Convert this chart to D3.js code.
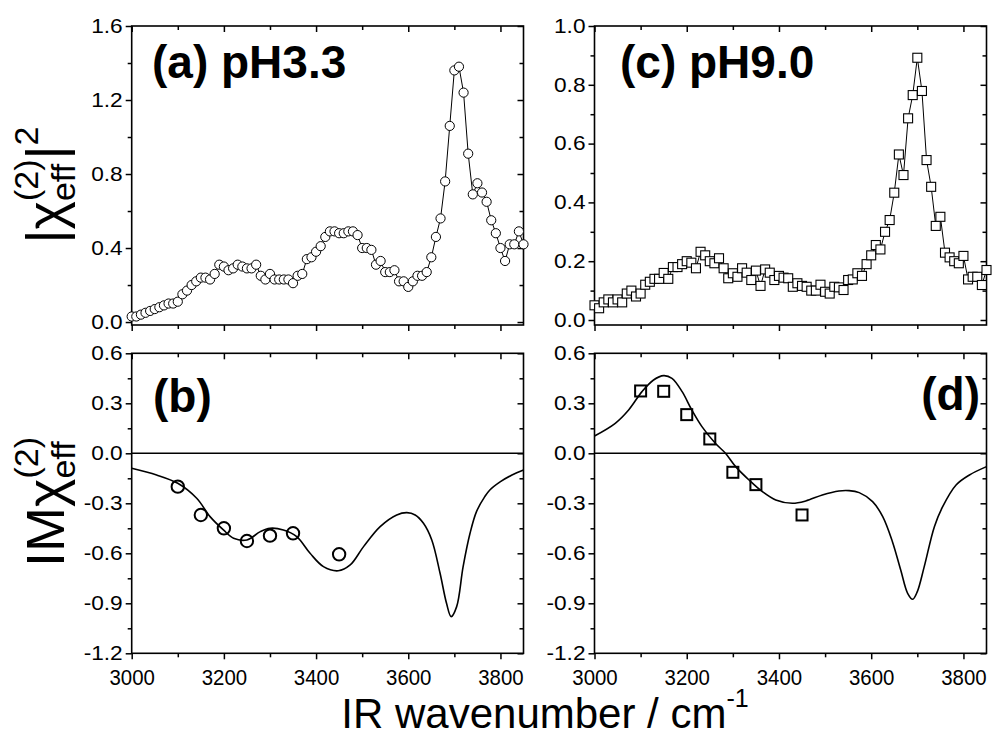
<!DOCTYPE html>
<html>
<head>
<meta charset="utf-8">
<script src="https://cdn.jsdelivr.net/npm/d3@7"></script>
<style>
  body { margin: 0; background: #fff; }
  svg { display: block; }
  text { font-family: "Liberation Sans", Arial, sans-serif; fill: #000; }
</style>
</head>
<body>
<div id="chart"></div>
<script>
// SFG scan wavenumbers (top panels) and |chi|^2 values
const wavenumber = [3000, 3010, 3020, 3030, 3040, 3050, 3060, 3070, 3080, 3090,
  3100, 3110, 3120, 3130, 3140, 3150, 3160, 3170, 3180, 3190,
  3200, 3210, 3220, 3230, 3240, 3250, 3260, 3270, 3280, 3290,
  3300, 3310, 3320, 3330, 3340, 3350, 3360, 3370, 3380, 3390,
  3400, 3410, 3420, 3430, 3440, 3450, 3460, 3470, 3480, 3490,
  3500, 3510, 3520, 3530, 3540, 3550, 3560, 3570, 3580, 3590,
  3600, 3610, 3620, 3630, 3640, 3650, 3660, 3670, 3680, 3690,
  3700, 3710, 3720, 3730, 3740, 3750, 3760, 3770, 3780, 3790,
  3800, 3810, 3820, 3830, 3840, 3850];

const chiSqPH33 = [0.03, 0.03, 0.04, 0.05, 0.06, 0.07, 0.08, 0.09, 0.10, 0.10,
  0.11, 0.15, 0.17, 0.20, 0.22, 0.24, 0.24, 0.23, 0.26, 0.31,
  0.30, 0.28, 0.29, 0.31, 0.30, 0.29, 0.29, 0.31, 0.25, 0.23,
  0.26, 0.23, 0.23, 0.23, 0.23, 0.21, 0.25, 0.26, 0.34, 0.35,
  0.38, 0.41, 0.46, 0.49, 0.49, 0.48, 0.48, 0.49, 0.49, 0.47,
  0.40, 0.40, 0.39, 0.31, 0.33, 0.27, 0.27, 0.28, 0.22, 0.22,
  0.19, 0.22, 0.25, 0.25, 0.27, 0.35, 0.46, 0.56, 0.76, 1.06,
  1.36, 1.38, 1.24, 0.91, 0.69, 0.75, 0.70, 0.65, 0.55, 0.48,
  0.40, 0.33, 0.42, 0.42, 0.49, 0.42];

const chiSqPH90 = [0.05, 0.04, 0.06, 0.07, 0.06, 0.07, 0.06, 0.09, 0.10, 0.08,
  0.09, 0.12, 0.13, 0.14, 0.14, 0.16, 0.14, 0.18, 0.18, 0.19,
  0.20, 0.195, 0.176, 0.232, 0.22, 0.20, 0.193, 0.21, 0.176, 0.142,
  0.159, 0.147, 0.176, 0.161, 0.136, 0.168, 0.116, 0.172, 0.161, 0.136,
  0.15, 0.144, 0.142, 0.113, 0.125, 0.116, 0.113, 0.10, 0.10, 0.12,
  0.096, 0.09, 0.113, 0.111, 0.102, 0.136, 0.138, 0.159, 0.15, 0.19,
  0.22, 0.255, 0.24, 0.30, 0.34, 0.433, 0.563, 0.493, 0.686, 0.765,
  0.892, 0.779, 0.544, 0.453, 0.32, 0.351, 0.229, 0.213, 0.20, 0.193,
  0.218, 0.138, 0.147, 0.147, 0.119, 0.17];

// Im chi(2) measured points (bottom panels)
const imWavenumber = [3100, 3150, 3200, 3250, 3300, 3350, 3450];
const imPH33 = [-0.20, -0.37, -0.45, -0.526, -0.494, -0.48, -0.606];
const imPH90 = [0.374, 0.372, 0.232, 0.086, -0.114, -0.188, -0.37];

// fitted Im chi(2) curves
const fitWavenumberPH33 = [3000, 3054, 3100, 3141, 3170, 3199, 3221, 3250, 3279, 3300, 3329, 3358,
  3387, 3416, 3448, 3474, 3503, 3539, 3575, 3597, 3615, 3633, 3651, 3669, 3683, 3693,
  3705, 3719, 3734, 3748, 3766, 3777, 3800, 3825, 3850];
const fitPH33 = [-0.09, -0.13, -0.18, -0.27, -0.38, -0.46, -0.51, -0.52, -0.47, -0.45, -0.46, -0.50,
  -0.60, -0.68, -0.705, -0.67, -0.56, -0.44, -0.37, -0.356, -0.37, -0.42, -0.52, -0.72, -0.90, -0.98,
  -0.92, -0.68, -0.48, -0.35, -0.26, -0.22, -0.17, -0.13, -0.10];

const fitWavenumberPH90 = [3000, 3045, 3074, 3103, 3128, 3150, 3168, 3190, 3211, 3233, 3262, 3284,
  3306, 3335, 3364, 3393, 3429, 3458, 3494, 3530, 3552, 3574, 3603, 3625, 3646, 3664, 3679,
  3690, 3700, 3715, 3737, 3755, 3784, 3813, 3850];
const fitPH90 = [0.104, 0.18, 0.26, 0.37, 0.44, 0.466, 0.45, 0.37, 0.26, 0.16, 0.06, 0.0,
  -0.08, -0.16, -0.23, -0.28, -0.30, -0.286, -0.25, -0.226, -0.224, -0.236, -0.29, -0.38,
  -0.53, -0.70, -0.84, -0.876, -0.83, -0.68, -0.44, -0.32, -0.19, -0.13, -0.08];

// ticks
const xMajor = [3000, 3200, 3400, 3600, 3800];
const xMinor = [3100, 3300, 3500, 3700];
const yMajorA = [0, 0.4, 0.8, 1.2, 1.6];
const yMinorA = [0.2, 0.6, 1.0, 1.4];
const yMajorC = [0, 0.2, 0.4, 0.6, 0.8, 1.0];
const yMinorC = [0.1, 0.3, 0.5, 0.7, 0.9];
const yMajorIm = [-1.2, -0.9, -0.6, -0.3, 0, 0.3, 0.6];
const yMinorIm = [-1.05, -0.75, -0.45, -0.15, 0.15, 0.45];

const width = 995, height = 738;
const svg = d3.select("#chart").append("svg")
  .attr("width", width)
  .attr("height", height);

// panel geometry
const colLeft = [131.7, 523.5];
const colRight = [594.5, 986.5];
const rowTop = [325, 26];
const rowBottom = [653.3, 353.3];

function stretchText(sel, f) {
  sel.each(function () {
    const t = d3.select(this);
    const x = +t.attr("x") || 0;
    t.attr("x", x / f).attr("transform", `scale(${f},1)`);
  });
}

function styleAxis(g, size, stretch) {
  g.select(".domain").remove();
  g.selectAll(".tick line").attr("stroke", "#000").attr("stroke-width", 1.5);
  g.selectAll(".tick text").style("font-size", size + "px").attr("fill", "#000");
  stretchText(g.selectAll(".tick text"), stretch);
}

function drawAxes(g, x, y, yMajor, yMinor, showX) {
  const [x0, x1] = x.range();
  const [yb, yt] = y.range();
  const fmtY = d => d.toFixed(1);

  // bottom (outward)
  g.append("g").attr("transform", `translate(0,${yb})`)
    .call(d3.axisBottom(x).tickValues(xMajor).tickSize(6).tickSizeOuter(0).tickPadding(10)
      .tickFormat(showX ? d3.format("d") : ""))
    .call(styleAxis, 21.5, 0.95);
  g.append("g").attr("transform", `translate(0,${yb})`)
    .call(d3.axisBottom(x).tickValues(xMinor).tickSize(4).tickSizeOuter(0).tickFormat(""))
    .call(styleAxis, 20, 1);
  // top (inward)
  g.append("g").attr("transform", `translate(0,${yt})`)
    .call(d3.axisTop(x).tickValues(xMajor).tickSize(-6).tickSizeOuter(0).tickFormat(""))
    .call(styleAxis, 20, 1);
  g.append("g").attr("transform", `translate(0,${yt})`)
    .call(d3.axisTop(x).tickValues(xMinor).tickSize(-4).tickSizeOuter(0).tickFormat(""))
    .call(styleAxis, 20, 1);
  // left (outward)
  g.append("g").attr("transform", `translate(${x0},0)`)
    .call(d3.axisLeft(y).tickValues(yMajor).tickSize(6).tickSizeOuter(0).tickPadding(3).tickFormat(fmtY))
    .call(styleAxis, 21, 1.08)
    .selectAll(".tick text").attr("dy", "0.3em");
  g.append("g").attr("transform", `translate(${x0},0)`)
    .call(d3.axisLeft(y).tickValues(yMinor).tickSize(4).tickSizeOuter(0).tickFormat(""))
    .call(styleAxis, 20, 1);
  // right (inward)
  g.append("g").attr("transform", `translate(${x1},0)`)
    .call(d3.axisRight(y).tickValues(yMajor).tickSize(-6).tickSizeOuter(0).tickFormat(""))
    .call(styleAxis, 20, 1);
  g.append("g").attr("transform", `translate(${x1},0)`)
    .call(d3.axisRight(y).tickValues(yMinor).tickSize(-4).tickSizeOuter(0).tickFormat(""))
    .call(styleAxis, 20, 1);

  // frame
  g.append("rect")
    .attr("x", x0).attr("y", yt)
    .attr("width", x1 - x0).attr("height", yb - yt)
    .attr("fill", "none").attr("stroke", "#000").attr("stroke-width", 1.6);
}

function panelLabel(txt, x, y, anchor) {
  svg.append("text")
    .attr("x", x).attr("y", y)
    .attr("text-anchor", anchor || "start")
    .style("font-size", "46px")
    .style("font-weight", "bold")
    .text(txt);
}

// ---------- top panels: |chi|^2 spectra ----------
function topPanel(xRange, yDomain, yMajor, yMinor, values, marker) {
  const x = d3.scaleLinear().domain([3000, 3850]).range(xRange);
  const y = d3.scaleLinear().domain(yDomain).range(rowTop);
  const g = svg.append("g");
  const pts = wavenumber.map((w, i) => ({ w, v: values[i] }));

  g.append("path")
    .datum(pts)
    .attr("fill", "none")
    .attr("stroke", "#000")
    .attr("stroke-width", 1)
    .attr("d", d3.line().x(d => x(d.w)).y(d => y(d.v)));

  drawAxes(g, x, y, yMajor, yMinor, false);

  if (marker === "circle") {
    g.selectAll("circle.pt").data(pts).join("circle")
      .attr("class", "pt")
      .attr("cx", d => x(d.w)).attr("cy", d => y(d.v)).attr("r", 4.6)
      .attr("fill", "#fff").attr("stroke", "#000").attr("stroke-width", 1);
  } else {
    const s = 9;
    g.selectAll("rect.pt").data(pts).join("rect")
      .attr("class", "pt")
      .attr("x", d => x(d.w) - s / 2).attr("y", d => y(d.v) - s / 2)
      .attr("width", s).attr("height", s)
      .attr("fill", "#fff").attr("stroke", "#000").attr("stroke-width", 1.1);
  }
}

topPanel(colLeft, [-0.016, 1.6], yMajorA, yMinorA, chiSqPH33, "circle");
topPanel(colRight, [-0.017, 1.0], yMajorC, yMinorC, chiSqPH90, "square");

// ---------- bottom panels: Im chi(2) ----------
function bottomPanel(xRange, fitW, fitV, ptsV, marker) {
  const x = d3.scaleLinear().domain([3000, 3850]).range(xRange);
  const y = d3.scaleLinear().domain([-1.2, 0.6]).range(rowBottom);
  const g = svg.append("g");

  g.append("line")
    .attr("x1", x(3000)).attr("x2", x(3850))
    .attr("y1", y(0)).attr("y2", y(0))
    .attr("stroke", "#000").attr("stroke-width", 1.5);

  const fit = fitW.map((w, i) => ({ w, v: fitV[i] }));
  g.append("path")
    .datum(fit)
    .attr("fill", "none")
    .attr("stroke", "#000")
    .attr("stroke-width", 1.6)
    .attr("d", d3.line().curve(d3.curveCatmullRom.alpha(0.5)).x(d => x(d.w)).y(d => y(d.v)));

  drawAxes(g, x, y, yMajorIm, yMinorIm, true);

  const pts = imWavenumber.map((w, i) => ({ w, v: ptsV[i] }));
  if (marker === "circle") {
    g.selectAll("circle.pt").data(pts).join("circle")
      .attr("class", "pt")
      .attr("cx", d => x(d.w)).attr("cy", d => y(d.v)).attr("r", 6.2)
      .attr("fill", "none").attr("stroke", "#000").attr("stroke-width", 2);
  } else {
    const s = 11;
    g.selectAll("rect.pt").data(pts).join("rect")
      .attr("class", "pt")
      .attr("x", d => x(d.w) - s / 2).attr("y", d => y(d.v) - s / 2)
      .attr("width", s).attr("height", s)
      .attr("fill", "none").attr("stroke", "#000").attr("stroke-width", 2);
  }
}

bottomPanel(colLeft, fitWavenumberPH33, fitPH33, imPH33, "circle");
bottomPanel(colRight, fitWavenumberPH90, fitPH90, imPH90, "square");

// panel labels
panelLabel("(a) pH3.3", 152, 78);
panelLabel("(c) pH9.0", 620, 78);
panelLabel("(b)", 153, 412);
panelLabel("(d)", 980, 410, "end");

// ---------- axis titles with sub/superscripts ----------
function richLabel(g, pieces) {
  let cx = 0, lastStart = 0;
  pieces.forEach(p => {
    const start = p.stack ? lastStart : cx;
    const t = g.append("text")
      .attr("x", start)
      .attr("y", p.shift || 0)
      .style("font-size", p.size + "px")
      .text(p.t);
    const w = t.node().getComputedTextLength();
    if (!p.stack) lastStart = start;
    cx = Math.max(cx, start + w);
  });
  return cx;
}

const yTitleTop = svg.append("g");
const topLen = richLabel(yTitleTop, [
  { t: "|", size: 54 },
  { t: "χ", size: 54 },
  { t: "(2)", size: 34, shift: -26 },
  { t: "eff", size: 34, shift: 11, stack: true },
  { t: "|", size: 54 },
  { t: "2", size: 34, shift: -26 }
]);
yTitleTop.attr("transform", `translate(64,${185 + topLen / 2}) rotate(-90)`);

const yTitleBottom = svg.append("g");
const bottomLen = richLabel(yTitleBottom, [
  { t: "IM", size: 54 },
  { t: "χ", size: 54 },
  { t: "(2)", size: 34, shift: -26 },
  { t: "eff", size: 34, shift: 11, stack: true }
]);
yTitleBottom.attr("transform", `translate(64,${502 + bottomLen / 2}) rotate(-90)`);

const xTitle = svg.append("g");
const xLen = richLabel(xTitle, [
  { t: "IR wavenumber / cm", size: 42 },
  { t: "-1", size: 25, shift: -21 }
]);
xTitle.attr("transform", `translate(${545 - xLen / 2},728)`);
</script>
</body>
</html>
